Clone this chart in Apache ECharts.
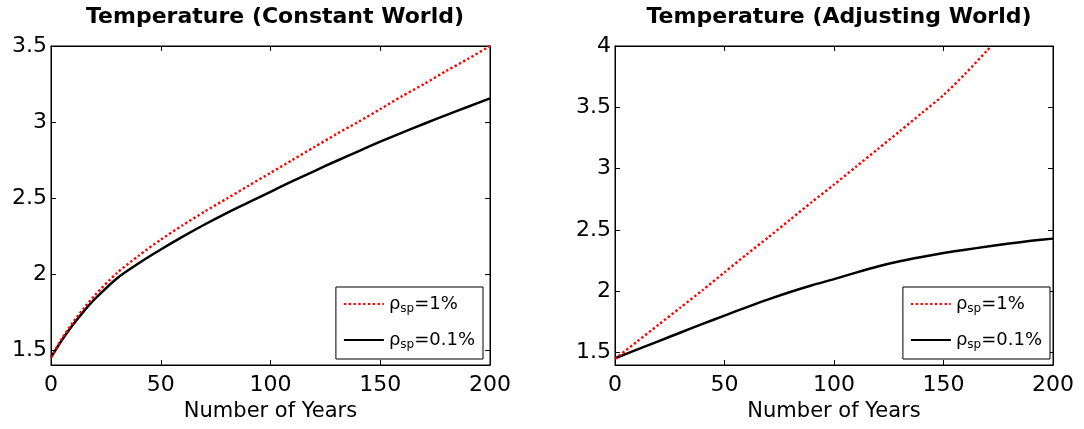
<!DOCTYPE html>
<html>
<head>
<meta charset="utf-8">
<script src="https://cdn.jsdelivr.net/npm/echarts@6/dist/echarts.min.js"></script>
<style>
html,body{margin:0;padding:0;background:#fff;}
#c{width:1084px;height:429px;}
</style>
</head>
<body>
<div id="c"></div>
<script>
// ---- data ----
const titleLeft = 'Temperature (Constant World)';
const titleRight = 'Temperature (Adjusting World)';
const xName = 'Number of Years';
const xTicks = [0, 50, 100, 150, 200];
const yTicksLeft = [1.5, 2, 2.5, 3, 3.5];
const yTicksRight = [1.5, 2, 2.5, 3, 3.5, 4];

const yearsLeft  = [0, 5, 10, 15, 20, 30, 40, 50, 60, 70, 80, 90, 100, 110, 120, 130, 140, 150, 160, 170, 180, 190, 200];
const constRed   = [1.45, 1.575, 1.68, 1.775, 1.86, 2.005, 2.12, 2.225, 2.32, 2.41, 2.495, 2.58, 2.665, 2.75, 2.835, 2.92, 3.00, 3.085, 3.17, 3.25, 3.335, 3.415, 3.50];
const constBlack = [1.45, 1.565, 1.665, 1.755, 1.835, 1.97, 2.07, 2.16, 2.245, 2.325, 2.40, 2.47, 2.54, 2.61, 2.677, 2.743, 2.807, 2.87, 2.93, 2.988, 3.045, 3.10, 3.155];

const yearsRightRed   = [0, 10, 20, 30, 40, 50, 60, 70, 80, 90, 100, 110, 120, 130, 140, 150, 160, 170, 171.8];
const adjRed          = [1.45, 1.59, 1.73, 1.87, 2.01, 2.155, 2.30, 2.44, 2.585, 2.73, 2.87, 3.015, 3.16, 3.305, 3.452, 3.60, 3.775, 3.965, 4.0];
const yearsRightBlack = [0, 10, 20, 30, 40, 50, 60, 70, 80, 90, 100, 110, 120, 130, 140, 150, 160, 170, 180, 190, 200];
const adjBlack        = [1.455, 1.525, 1.595, 1.665, 1.735, 1.803, 1.87, 1.935, 1.995, 2.05, 2.10, 2.153, 2.203, 2.245, 2.28, 2.312, 2.34, 2.365, 2.39, 2.412, 2.43];

const nameRed = 'rho1';
const nameBlack = 'rho01';
const legendText = {rho1: '{a|ρ}{b|sp}{a|=1%}', rho01: '{a|ρ}{b|sp}{a|=0.1%}'};

function pairs(xs, ys) { return xs.map((x, i) => [x, ys[i]]); }

const FONT = 'DejaVu Sans';
const chart = echarts.init(document.getElementById('c'), null, {renderer: 'canvas'});

function xAxes(gi) {
  return [
    {type: 'value', gridIndex: gi, min: xTicks[0], max: xTicks[xTicks.length - 1], interval: 50, position: 'bottom',
     name: xName, nameLocation: 'middle', nameGap: 33,
     nameTextStyle: {fontFamily: FONT, fontSize: 21, color: '#000'},
     axisLine: {show: true, onZero: false, lineStyle: {color: '#000', width: 1}},
     axisTick: {show: true, inside: true, length: 5, lineStyle: {color: '#000'}},
     axisLabel: {show: true, margin: 9, fontFamily: FONT, fontSize: 22, color: '#000'},
     splitLine: {show: false}},
    {type: 'value', gridIndex: gi, min: xTicks[0], max: xTicks[xTicks.length - 1], interval: 50, position: 'top',
     axisLine: {show: true, onZero: false, lineStyle: {color: '#000', width: 1}},
     axisTick: {show: true, inside: true, length: 5, lineStyle: {color: '#000'}},
     axisLabel: {show: false}, splitLine: {show: false}}
  ];
}
function yAxes(gi, max, ticks) {
  return [
    {type: 'value', gridIndex: gi, min: 1.4, max: max, position: 'left',
     axisLine: {show: true, onZero: false, lineStyle: {color: '#000', width: 1}},
     axisTick: {show: true, inside: true, length: 5, customValues: ticks, lineStyle: {color: '#000'}},
     axisLabel: {show: true, margin: 4, customValues: ticks, fontFamily: FONT, fontSize: 22, color: '#000'},
     splitLine: {show: false}},
    {type: 'value', gridIndex: gi, min: 1.4, max: max, position: 'right',
     axisLine: {show: true, onZero: false, lineStyle: {color: '#000', width: 1}},
     axisTick: {show: true, inside: true, length: 5, customValues: ticks, lineStyle: {color: '#000'}},
     axisLabel: {show: false, customValues: ticks}, splitLine: {show: false}}
  ];
}
function legend(right) {
  return {
    orient: 'vertical', right: right, bottom: 70,
    data: [nameRed, nameBlack],
    backgroundColor: '#fff', borderColor: '#000', borderWidth: 1,
    padding: [8, 8, 8, 7], itemWidth: 40, itemHeight: 14, itemGap: 16,
    selectedMode: false,
    itemStyle: {opacity: 0, borderWidth: 0},
    formatter: n => legendText[n],
    textStyle: {
      fontFamily: FONT, color: '#000',
      rich: {
        a: {fontFamily: FONT, fontSize: 18, color: '#000'},
        b: {fontFamily: FONT, fontSize: 12, color: '#000', padding: [10, 0, 0, 0]}
      }
    }
  };
}
const redStyle = {color: '#ff0000', width: 2.4, type: [2.4, 2.4], cap: 'butt'};
const blackStyle = {color: '#000', width: 2.5, type: 'solid'};

chart.setOption({
  animation: false,
  backgroundColor: '#fff',
  title: [
    {text: titleLeft, left: 270, top: 1, textAlign: 'center',
     textStyle: {fontFamily: FONT, fontWeight: 'bold', fontSize: 22, color: '#000'}},
    {text: titleRight, left: 834, top: 1, textAlign: 'center',
     textStyle: {fontFamily: FONT, fontWeight: 'bold', fontSize: 22, color: '#000'}}
  ],
  grid: [
    {left: 51, right: 594, top: 46, bottom: 64, show: true, borderColor: '#000', borderWidth: 1, backgroundColor: '#fff'},
    {left: 615, right: 31, top: 46, bottom: 64, show: true, borderColor: '#000', borderWidth: 1, backgroundColor: '#fff'}
  ],
  xAxis: [...xAxes(0), ...xAxes(1)],
  yAxis: [...yAxes(0, 3.5, yTicksLeft), ...yAxes(1, 4, yTicksRight)],
  legend: [legend(601), legend(34)],
  series: [
    {name: nameRed, type: 'line', xAxisIndex: 0, yAxisIndex: 0, data: pairs(yearsLeft, constRed),
     showSymbol: false, symbol: 'none', smooth: 0.25, lineStyle: redStyle, itemStyle: {color: '#ff0000'}, z: 3},
    {name: nameBlack, type: 'line', xAxisIndex: 0, yAxisIndex: 0, data: pairs(yearsLeft, constBlack),
     showSymbol: false, symbol: 'none', smooth: 0.25, lineStyle: blackStyle, itemStyle: {color: '#000'}, z: 2},
    {name: nameRed, type: 'line', xAxisIndex: 2, yAxisIndex: 2, data: pairs(yearsRightRed, adjRed),
     showSymbol: false, symbol: 'none', smooth: 0.25, lineStyle: redStyle, itemStyle: {color: '#ff0000'}, z: 3},
    {name: nameBlack, type: 'line', xAxisIndex: 2, yAxisIndex: 2, data: pairs(yearsRightBlack, adjBlack),
     showSymbol: false, symbol: 'none', smooth: 0.25, lineStyle: blackStyle, itemStyle: {color: '#000'}, z: 2}
  ]
});
</script>
</body>
</html>
